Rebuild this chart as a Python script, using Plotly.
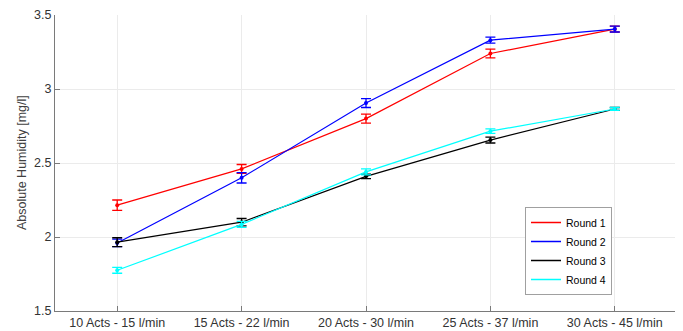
import plotly.graph_objects as go

categories = ["10 Acts - 15 l/min", "15 Acts - 22 l/min", "20 Acts - 30 l/min",
              "25 Acts - 37 l/min", "30 Acts - 45 l/min"]
round1 = [2.215, 2.46, 2.80, 3.24, 3.405]
round1_err = [0.035, 0.03, 0.03, 0.03, 0.02]
round2 = [1.96, 2.40, 2.905, 3.33, 3.405]
round2_err = [0.025, 0.035, 0.03, 0.02, 0.02]
round3 = [1.965, 2.10, 2.41, 2.655, 2.865]
round3_err = [0.03, 0.025, 0.015, 0.02, 0.01]
round4 = [1.775, 2.085, 2.44, 2.715, 2.865]
round4_err = [0.02, 0.02, 0.02, 0.015, 0.01]

series = [("Round 1", round1, round1_err, "#ff0000"),
          ("Round 2", round2, round2_err, "#0000ff"),
          ("Round 3", round3, round3_err, "#000000"),
          ("Round 4", round4, round4_err, "#00ffff")]

# page body has an 8px margin: figure is 675x323 placed at (8, 8)
W, H = 675, 323
L, T, R, B = 47, 7, 6, 20
PW, PH = W - L - R, H - T - B

fig = go.Figure()
for name, vals, err, col in series:
    fig.add_trace(go.Scatter(
        x=list(range(len(categories))), y=vals, name=name, mode="lines+markers",
        line=dict(color=col, width=1.2),
        marker=dict(color=col, size=4),
        error_y=dict(type="data", array=err, color=col, thickness=1.3, width=5),
        showlegend=False,
    ))
# legend entries (lines only, as in the reference legend)
for name, vals, err, col in series:
    fig.add_trace(go.Scatter(
        x=[None], y=[None], name=name, mode="lines",
        line=dict(color=col, width=1.5), showlegend=True,
    ))

fig.add_annotation(
    text="Absolute Humidity [mg/l]", textangle=-90,
    xref="paper", yref="paper", x=(14 - L) / PW, y=0.5,
    xanchor="center", yanchor="middle", showarrow=False,
    font=dict(size=12.5, color="#404040"),
)

fig.update_layout(
    width=W, height=H,
    margin=dict(l=L, r=R, t=T, b=B, autoexpand=False),
    paper_bgcolor="white", plot_bgcolor="white",
    font=dict(family="Liberation Sans, Arial", size=12, color="#333333"),
    showlegend=True,
    legend=dict(x=(517 - L) / PW, y=(H - B - 199) / PH, xanchor="left", yanchor="top",
                bgcolor="white", bordercolor="#a0a0a0", borderwidth=1,
                font=dict(size=10.5, color="#000000"),
                itemwidth=30, tracegroupgap=0),
    xaxis=dict(range=[-0.5, 4.5], tickmode="array",
               tickvals=list(range(len(categories))), ticktext=categories,
               showgrid=True, gridcolor="#ebebeb", zeroline=False,
               showline=True, linecolor="#7a7a7a", linewidth=1,
               ticks="inside", ticklen=5, tickcolor="#7a7a7a",
               automargin=False, tickfont=dict(size=12.5)),
    yaxis=dict(range=[1.5, 3.5], tickvals=[1.5, 2, 2.5, 3, 3.5],
               ticktext=["1.5", "2", "2.5", "3", "3.5"],
               showgrid=True, gridcolor="#ebebeb", zeroline=False,
               showline=True, linecolor="#7a7a7a", linewidth=1,
               ticks="inside", ticklen=5, tickcolor="#7a7a7a",
               automargin=False, tickfont=dict(size=12.5)),
)

fig.write_html("out.html")
